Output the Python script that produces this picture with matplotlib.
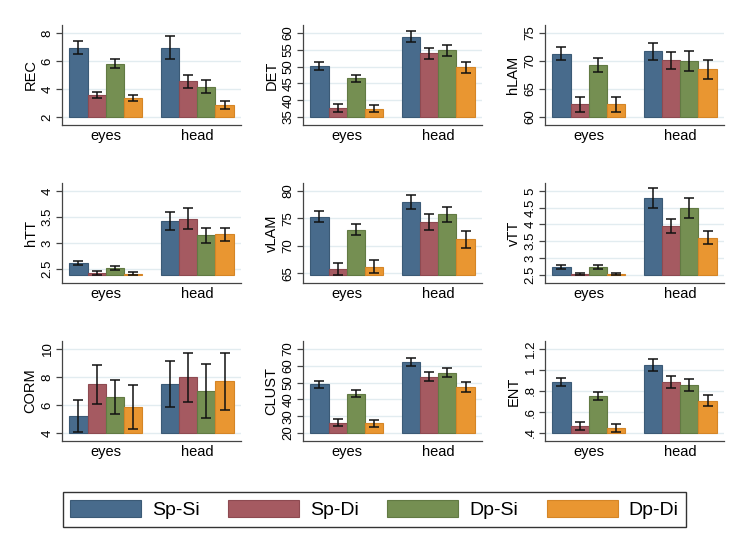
import matplotlib.pyplot as plt
import numpy as np
from matplotlib.patches import Patch

plt.rcParams['font.family'] = ['Liberation Sans', 'DejaVu Sans']

# conditions / groups
conditions = ['Sp-Si', 'Sp-Di', 'Dp-Si', 'Dp-Di']
groups = ['eyes', 'head']
colors = ['#486b8c', '#a55a61', '#758f52', '#e99631']
edge_colors = ['#3b5a76', '#8e4a51', '#627a43', '#d58526']

# means per metric: [eyes], [head]
rec_mean = [[6.96, 3.57, 5.82, 3.33], [6.96, 4.54, 4.16, 2.85]]
rec_err = [[0.44, 0.24, 0.30, 0.21], [0.85, 0.47, 0.45, 0.31]]
det_mean = [[50.3, 37.7, 46.5, 37.5], [58.9, 53.95, 54.8, 49.8]]
det_err = [[1.2, 1.1, 1.05, 1.1], [1.65, 1.7, 1.7, 1.7]]
hlam_mean = [[71.27, 62.3, 69.25, 62.25], [71.7, 70.14, 70.0, 68.5]]
hlam_err = [[1.15, 1.35, 1.2, 1.35], [1.6, 1.55, 1.7, 1.65]]
htt_mean = [[2.614, 2.43, 2.52, 2.41], [3.43, 3.47, 3.146, 3.165]]
htt_err = [[0.045, 0.04, 0.04, 0.032], [0.175, 0.205, 0.14, 0.13]]
vlam_mean = [[75.34, 65.8, 72.9, 66.2], [78.0, 74.37, 75.77, 71.23]]
vlam_err = [[0.95, 1.1, 1.0, 1.15], [1.3, 1.4, 1.4, 1.55]]
vtt_mean = [[2.726, 2.52, 2.716, 2.52], [4.79, 3.95, 4.48, 3.61]]
vtt_err = [[0.057, 0.035, 0.06, 0.04], [0.29, 0.21, 0.3, 0.185]]
corm_mean = [[5.21, 7.49, 6.59, 5.87], [7.49, 7.98, 7.01, 7.68]]
corm_err = [[1.16, 1.39, 1.21, 1.55], [1.64, 1.75, 1.93, 2.05]]
clust_mean = [[48.9, 26.1, 43.5, 25.7], [62.3, 53.4, 56.0, 47.5]]
clust_err = [[2.2, 2.1, 2.2, 2.0], [2.5, 2.7, 2.8, 3.0]]
ent_mean = [[0.887, 0.463, 0.751, 0.447], [1.051, 0.887, 0.858, 0.706]]
ent_err = [[0.035, 0.038, 0.036, 0.035], [0.057, 0.057, 0.057, 0.052]]

metrics = ['REC', 'DET', 'hLAM', 'hTT', 'vLAM', 'vTT', 'CORM', 'CLUST', 'ENT']
means = [rec_mean, det_mean, hlam_mean, htt_mean, vlam_mean, vtt_mean,
         corm_mean, clust_mean, ent_mean]
errs = [rec_err, det_err, hlam_err, htt_err, vlam_err, vtt_err,
        corm_err, clust_err, ent_err]
# bar base (bottom of range) and y ticks
bases = [2, 35, 60, 2.386, 64.7, 2.49, 4, 20, 0.4]
yticks = [[2, 4, 6, 8], [35, 40, 45, 50, 55, 60], [60, 65, 70, 75],
          [2.5, 3, 3.5, 4], [65, 70, 75, 80], [2.5, 3, 3.5, 4, 4.5, 5],
          [4, 6, 8, 10], [20, 30, 40, 50, 60, 70], [0.4, 0.6, 0.8, 1.0, 1.2]]
ytick_labels = [['2', '4', '6', '8'], ['35', '40', '45', '50', '55', '60'],
                ['60', '65', '70', '75'], ['2.5', '3', '3.5', '4'],
                ['65', '70', '75', '80'], ['2.5', '3', '3.5', '4', '4.5', '5'],
                ['4', '6', '8', '10'], ['20', '30', '40', '50', '60', '70'],
                ['.4', '.6', '.8', '1', '1.2']]

W, H = 750, 546
fig = plt.figure(figsize=(W / 100, H / 100), dpi=100)

col_left = [62, 303, 545]
row_top = [25, 183, 341]
ax_w, ax_h = 179, 100

for k, name in enumerate(metrics):
    r, c = divmod(k, 3)
    ax = fig.add_axes([col_left[c] / W, 1 - (row_top[r] + ax_h) / H, ax_w / W, ax_h / H])
    base = bases[k]
    top = yticks[k][-1]
    pad = (top - base) * 8 / 84
    for g in range(2):
        for ci in range(4):
            x = g * 5 + ci + 0.5
            v = means[k][g][ci]
            ax.bar(x, v - base, bottom=base, width=1, color=colors[ci],
                   edgecolor=edge_colors[ci], linewidth=0.8, zorder=2)
            ax.errorbar(x, v, yerr=errs[k][g][ci], color='#111111', capsize=3.5,
                        elinewidth=1.1, capthick=1.1, zorder=3)
    ax.set_xlim(-0.4, 9.4)
    ax.set_ylim(base - pad, top + pad)
    ax.set_xticks([2, 7])
    ax.set_xticklabels(groups, fontsize=10.5)
    ax.tick_params(axis='x', length=0, pad=3)
    ax.set_yticks(yticks[k])
    ax.set_yticklabels(ytick_labels[k], rotation=90, va='center', fontsize=9.5)
    ax.tick_params(axis='y', length=4, width=0.9, color='#444444', pad=2)
    ax.set_ylabel(name, fontsize=10.5, labelpad=3)
    ax.yaxis.grid(True, color='#e2ecf0', linewidth=1)
    ax.set_axisbelow(True)
    for s in ['top', 'right']:
        ax.spines[s].set_visible(False)
    for s in ['left', 'bottom']:
        ax.spines[s].set_color('#444444')
        ax.spines[s].set_linewidth(0.9)

handles = [Patch(facecolor=colors[i], edgecolor=edge_colors[i], linewidth=0.8)
           for i in range(4)]
leg = fig.legend(handles, conditions, loc='center', ncol=4,
                 bbox_to_anchor=((63 + 686) / 2 / W, 1 - 509.5 / H),
                 fontsize=14, frameon=True, fancybox=False,
                 handlelength=3.65, handleheight=0.98, handletextpad=0.57,
                 columnspacing=1.45, borderpad=0.4, borderaxespad=0)
leg.get_frame().set_edgecolor('black')
leg.get_frame().set_linewidth(1.0)

fig.savefig('out.png', dpi=100, facecolor='white')
